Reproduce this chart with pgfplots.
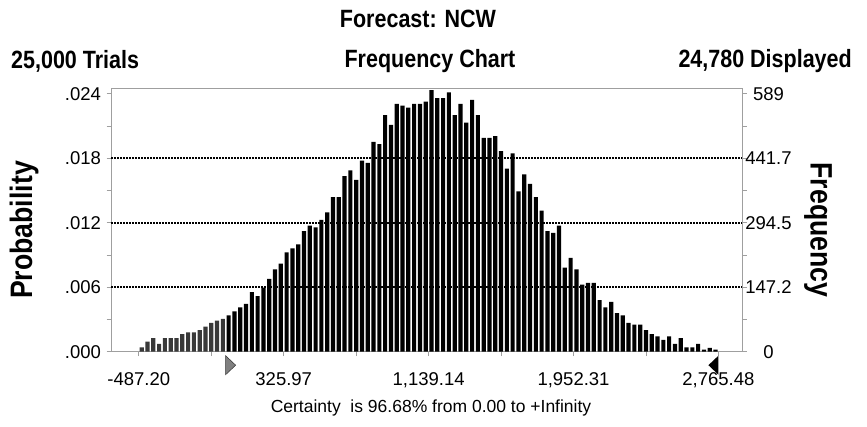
\documentclass[border=0pt]{standalone}
\usepackage{fontspec}
\setmainfont{Liberation Sans}
\newfontfamily\condfont[FakeStretch=0.86]{Liberation Sans}
\usepackage{pgfplots}
\pgfplotsset{compat=1.18}
\begin{document}
\begin{tikzpicture}[x=1pt,y=1pt]
\useasboundingbox (0,0) rectangle (867,427);
\begin{axis}[
  at={(111pt,75.3pt)}, anchor=south west,
  scale only axis, width=631pt, height=263.7pt,
  xmin=-4.3, xmax=104.57, ymin=0, ymax=602,
  clip=false,
  axis line style={draw=gray!75, line width=0.8pt},
  tick style={draw=gray!75, line width=0.8pt},
  tick align=outside, major tick length=4.5pt, minor tick length=4.5pt,
  xtick pos=left, ytick pos=left,
  xtick={0.5,25.5,50.5,75.5,100.5},
  xticklabels={{-487.20},{325.97},{1,139.14},{1,952.31},{2,765.48}},
  minor x tick num=1,
  ytick={0,147.25,294.5,441.75,589},
  yticklabels={{.000},{.006},{.012},{.018},{.024}},
  minor y tick num=1,
  extra y ticks={147.25,294.5,441.75},
  extra y tick labels={},
  extra y tick style={grid=major, major tick length=0pt},
  grid style={draw=black, line width=1.8pt, dash pattern=on 1.5pt off 1.5pt},
  ticklabel style={font=\fontsize{18.5}{20}\selectfont},
  xticklabel style={yshift=-13pt},
  yticklabel style={xshift=-2pt},
]
\addplot[ybar, bar shift=0pt, bar width=0.72, fill=black!78, draw=none] coordinates {
(1,10)(2,23)(3,31)(4,18)(5,31)(6,31)(7,31)(8,40)(9,44)(10,44)
(11,49)(12,57)(13,66)(14,71)(15,75)
};
\addplot[ybar, bar shift=0pt, bar width=0.72, fill=black, draw=none] coordinates {
(16,83)(17,92)(18,101)(19,109)(20,136)
(21,127)(22,146)(23,166)(24,188)(25,201)(26,227)(27,236)(28,245)(29,275)(30,288)
(31,284)(32,301)(33,318)(34,353)(35,353)(36,401)(37,414)(38,392)(39,436)(40,431)
(41,479)(42,474)(43,540)(44,518)(45,566)(46,562)(47,557)(48,566)(49,566)(50,571)
(51,597)(52,579)(53,579)(54,592)(55,540)(56,566)(57,523)(58,575)(59,540)(60,488)
(61,488)(62,492)(63,458)(64,418)(65,453)(66,366)(67,405)(68,383)(69,353)(70,322)
(71,275)(72,271)(73,288)(74,192)(75,214)(76,188)(77,153)(78,157)(79,157)(80,118)
(81,101)(82,114)(83,88)(84,83)(85,66)(86,62)(87,62)(88,49)(89,40)(90,35)
(91,27)(92,35)(93,18)(94,31)(95,10)(96,10)(97,18)(98,5)(99,9)(100,5)
};
\coordinate (L) at (axis cs:15.48,0);
\coordinate (R) at (axis cs:100.5,0);
\filldraw[fill=black!50, draw=black!80, line width=0.5pt]
  ([yshift=-4pt]L) -- ([yshift=-23pt]L) -- ([xshift=10pt,yshift=-13.5pt]L) -- cycle;
\fill[black] ([yshift=-4pt]R) -- ([yshift=-23pt]R) -- ([xshift=-10pt,yshift=-13.5pt]R) -- cycle;
\end{axis}
\begin{axis}[
  at={(111pt,75.3pt)}, anchor=south west,
  scale only axis, width=631pt, height=263.7pt,
  xmin=-4.3, xmax=104.57, ymin=0, ymax=602,
  axis x line=none, axis y line*=right,
  axis line style={draw=gray!75, line width=0.8pt},
  tick style={draw=gray!75, line width=0.8pt},
  tick align=outside, major tick length=4.5pt, minor tick length=4.5pt,
  ytick={0,147.25,294.5,441.75,589},
  yticklabels={{0},{147.2},{294.5},{441.7},{589}},
  minor y tick num=1,
  ticklabel style={font=\fontsize{18.5}{20}\selectfont},
  yticklabel style={anchor=center, xshift=22pt},
]
\addplot[draw=none] coordinates {(0,0)};
\end{axis}
\node[inner sep=0, font=\condfont\bfseries\fontsize{25}{27}\selectfont] at (418,408) {Forecast: NCW};
\node[inner sep=0, anchor=west, font=\condfont\bfseries\fontsize{25}{27}\selectfont] at (11,366) {25,000 Trials};
\node[inner sep=0, font=\condfont\bfseries\fontsize{25}{27}\selectfont] at (430,366) {Frequency Chart};
\node[inner sep=0, anchor=east, font=\condfont\bfseries\fontsize{25}{27}\selectfont] at (852,366) {24,780 Displayed};
\node[inner sep=0, rotate=90, font=\condfont\bfseries\fontsize{31}{33}\selectfont] at (24,197) {Probability};
\node[inner sep=0, rotate=-90, font=\condfont\bfseries\fontsize{31}{33}\selectfont] at (818,197) {Frequency};
\node[inner sep=0, font=\fontsize{17.5}{19}\selectfont] at (431,19) {Certainty\ \ is 96.68\% from 0.00 to +Infinity};
\end{tikzpicture}
\end{document}
